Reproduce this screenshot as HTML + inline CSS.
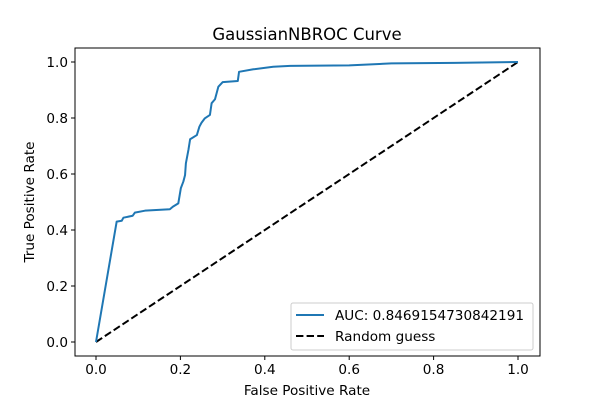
<!DOCTYPE html>
<html><head><meta charset="utf-8"><style>
body{margin:0;background:#fff;}
svg text{font-family:"DejaVu Sans","Liberation Sans",sans-serif;font-size:13.6px;fill:#000;}
</style></head><body>
<svg id="chart" width="600" height="400" xmlns="http://www.w3.org/2000/svg">
<rect width="600" height="400" fill="#fff"/>
<text x="307" y="40" text-anchor="middle" style="font-size:16.5px">GaussianNBROC Curve</text>
<g id="ticks"></g>
<polyline id="random" fill="none" stroke="#000" stroke-width="2" stroke-dasharray="7.4,3.2"/>
<polyline id="roc" fill="none" stroke="#1f77b4" stroke-width="2" stroke-linejoin="round"/>
<rect x="75" y="48" width="465" height="308" fill="none" stroke="#000" stroke-width="1"/>
<text x="307" y="395" text-anchor="middle">False Positive Rate</text>
<text transform="translate(34,202) rotate(-90)" text-anchor="middle">True Positive Rate</text>
<g>
<rect x="291" y="303" width="242" height="47" rx="2" fill="#fff" fill-opacity="0.8" stroke="#ccc" stroke-width="1"/>
<line x1="296" y1="315" x2="324" y2="315" stroke="#1f77b4" stroke-width="2"/>
<text x="335" y="320">AUC: 0.8469154730842191</text>
<line x1="296" y1="336" x2="324" y2="336" stroke="#000" stroke-width="2" stroke-dasharray="7.4,3.2"/>
<text x="335" y="341">Random guess</text>
</g>
</svg>
<script>
const fpr=[0,0.049,0.061,0.065,0.087,0.092,0.116,0.175,0.182,0.195,0.201,0.207,0.211,0.213,0.219,0.223,0.239,0.245,0.250,0.258,0.270,0.274,0.282,0.290,0.300,0.336,0.339,0.373,0.420,0.460,0.600,0.700,0.850,1];
const tpr=[0,0.430,0.433,0.444,0.451,0.462,0.469,0.474,0.483,0.495,0.549,0.573,0.596,0.638,0.686,0.724,0.739,0.769,0.783,0.799,0.811,0.853,0.867,0.912,0.928,0.932,0.965,0.974,0.983,0.986,0.988,0.995,0.997,1];
const randX=[0,1];
const randY=[0,1];
const xTicks=["0.0","0.2","0.4","0.6","0.8","1.0"];
const yTicks=["0.0","0.2","0.4","0.6","0.8","1.0"];
const sx=v=>96+v*422, sy=v=>342-v*280;
document.getElementById('roc').setAttribute('points',fpr.map((x,i)=>sx(x)+','+sy(tpr[i])).join(' '));
document.getElementById('random').setAttribute('points',randX.map((x,i)=>sx(x)+','+sy(randY[i])).join(' '));
const g=document.getElementById('ticks');const NS='http://www.w3.org/2000/svg';
xTicks.forEach(t=>{const x=sx(parseFloat(t));
const l=document.createElementNS(NS,'line');l.setAttribute('x1',x);l.setAttribute('x2',x);l.setAttribute('y1',356);l.setAttribute('y2',360);l.setAttribute('stroke','#000');l.setAttribute('stroke-width','1');


g.appendChild(l);
const tx=document.createElementNS(NS,'text');tx.setAttribute('x',x);tx.setAttribute('y',374);tx.setAttribute('text-anchor','middle');tx.textContent=t;


g.appendChild(tx);});
yTicks.forEach(t=>{const y=sy(parseFloat(t));
const l=document.createElementNS(NS,'line');l.setAttribute('x1',71);l.setAttribute('x2',75);l.setAttribute('y1',y);l.setAttribute('y2',y);l.setAttribute('stroke','#000');l.setAttribute('stroke-width','1');


g.appendChild(l);
const tx=document.createElementNS(NS,'text');tx.setAttribute('x',68);tx.setAttribute('y',y+5);tx.setAttribute('text-anchor','end');tx.textContent=t;


g.appendChild(tx);});
</script>
</body></html>
